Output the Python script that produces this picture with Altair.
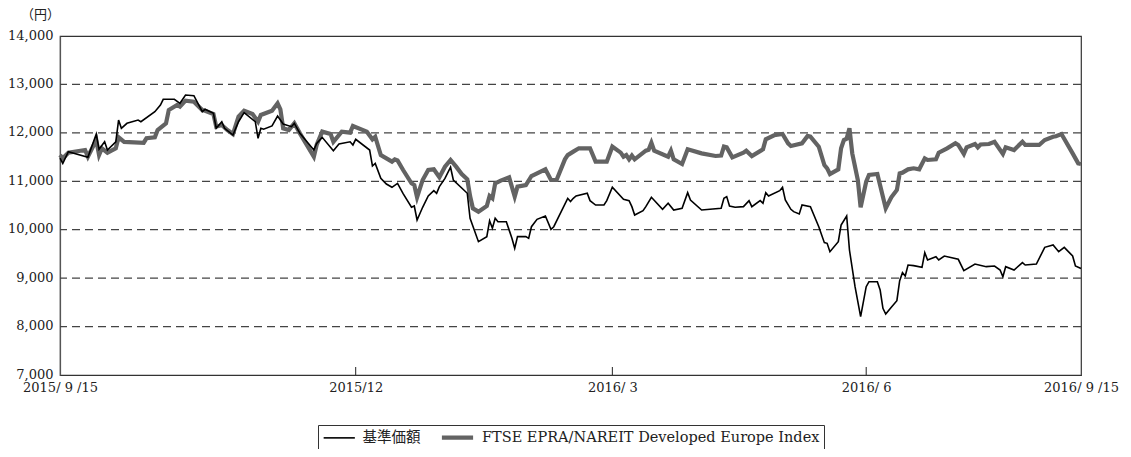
import altair as alt
import pandas as pd

START = "2015-09-15"
END = "2016-09-15"

# 基準価額 (days after 2015-09-15, value in yen)
nav_days = [0, 1, 3, 10, 13, 14, 16, 17, 20, 21, 22, 24, 28, 29, 34, 36, 37, 41, 43, 45, 48, 51, 52, 55, 56, 58, 59, 62, 64, 66, 70, 71, 72, 73, 76, 78, 80, 83, 84, 86, 91, 92, 94, 98, 100, 104, 105, 106, 111, 112, 113, 115, 117, 119, 121, 123, 126, 127, 128, 130, 132, 134, 135, 136, 138, 140, 141, 146, 147, 150, 153, 154, 155, 156, 157, 160, 162, 163, 164, 167, 168, 169, 171, 174, 176, 177, 182, 183, 184, 185, 189, 190, 192, 195, 196, 198, 202, 204, 205, 206, 209, 210, 212, 216, 218, 220, 223, 225, 226, 230, 237, 238, 239, 240, 242, 245, 247, 248, 251, 252, 253, 254, 258, 259, 260, 262, 263, 265, 266, 269, 272, 274, 275, 276, 279, 280, 282, 283, 285, 287, 289, 290, 293, 294, 295, 296, 298, 300, 301, 302, 303, 304, 306, 309, 310, 311, 314, 315, 317, 322, 324, 328, 332, 335, 337, 338, 339, 342, 345, 346, 350, 353, 356, 358, 360, 363, 364, 366]
nav_values = [11480, 11370, 11610, 11495, 11975, 11660, 11815, 11645, 11815, 12265, 12095, 12197, 12265, 12230, 12437, 12575, 12693, 12693, 12610, 12782, 12768, 12437, 12487, 12404, 12095, 12230, 12095, 11955, 12230, 12417, 12230, 11888, 12095, 12075, 12142, 12348, 12183, 12128, 12197, 11990, 11645, 11783, 11907, 11632, 11770, 11815, 11750, 11867, 11645, 11316, 11370, 11060, 10944, 10876, 10958, 10745, 10463, 10490, 10200, 10463, 10696, 10806, 10752, 10890, 11060, 11290, 11027, 10752, 10236, 9753, 9857, 10186, 10030, 10236, 10166, 10166, 9822, 9616, 9857, 9857, 9822, 10062, 10215, 10284, 10007, 10062, 10648, 10580, 10648, 10696, 10752, 10600, 10510, 10510, 10600, 10876, 10628, 10600, 10476, 10304, 10393, 10476, 10669, 10421, 10545, 10407, 10442, 10765, 10614, 10407, 10442, 10648, 10683, 10490, 10463, 10476, 10600, 10476, 10600, 10545, 10765, 10696, 10806, 10876, 10614, 10421, 10373, 10325, 10510, 10476, 10062, 9733, 9719, 9546, 9753, 10097, 10284, 9581, 8823, 8204, 8823, 8927, 8927, 8755, 8377, 8260, 8398, 8535, 8948, 9113, 9044, 9271, 9258, 9223, 9526, 9375, 9443, 9375, 9457, 9389, 9154, 9292, 9237, 9251, 9168, 9030, 9237, 9168, 9320, 9271, 9292, 9636, 9684, 9546, 9636, 9457, 9251, 9200]

# FTSE EPRA/NAREIT Developed Europe Index (rebased)
idx_days = [0, 1, 3, 9, 10, 13, 14, 15, 17, 20, 21, 23, 30, 31, 34, 35, 38, 39, 42, 43, 45, 48, 51, 52, 55, 56, 58, 60, 62, 64, 66, 69, 71, 72, 76, 78, 79, 80, 82, 84, 86, 91, 92, 94, 97, 98, 101, 104, 105, 110, 112, 113, 115, 119, 120, 121, 123, 126, 127, 128, 130, 132, 134, 136, 138, 140, 142, 144, 146, 147, 148, 150, 153, 154, 155, 156, 158, 161, 163, 164, 167, 169, 174, 176, 178, 181, 182, 184, 186, 190, 192, 196, 198, 201, 202, 203, 204, 205, 206, 210, 211, 212, 213, 218, 219, 220, 223, 225, 230, 235, 237, 238, 239, 241, 245, 246, 248, 252, 253, 256, 259, 261, 262, 266, 268, 269, 272, 274, 275, 276, 279, 280, 281, 282, 283, 284, 286, 287, 289, 290, 293, 296, 298, 300, 301, 302, 304, 306, 308, 310, 311, 314, 315, 318, 321, 322, 324, 325, 328, 329, 330, 333, 335, 338, 339, 342, 345, 346, 351, 353, 356, 357, 359, 363, 365, 366]
idx_values = [11543, 11474, 11591, 11646, 11508, 11853, 11543, 11680, 11591, 11680, 11908, 11815, 11796, 11888, 11908, 12059, 12197, 12472, 12575, 12541, 12665, 12644, 12472, 12458, 12390, 12128, 12162, 12059, 11976, 12334, 12458, 12390, 12231, 12369, 12458, 12610, 12486, 12093, 12059, 12197, 11990, 11508, 11750, 12025, 11976, 11815, 12025, 12004, 12142, 12025, 11867, 11920, 11543, 11405, 11453, 11430, 11233, 10958, 10923, 10669, 11027, 11233, 11247, 11082, 11302, 11440, 11302, 11150, 11040, 10696, 10442, 10373, 10490, 10696, 10648, 10958, 11013, 11082, 10683, 10890, 10923, 11109, 11247, 11027, 11027, 11453, 11540, 11612, 11681, 11681, 11405, 11405, 11715, 11591, 11508, 11540, 11453, 11530, 11453, 11632, 11650, 11796, 11632, 11508, 11632, 11453, 11357, 11660, 11577, 11522, 11530, 11715, 11700, 11495, 11591, 11632, 11522, 11660, 11867, 11950, 11976, 11784, 11729, 11784, 11935, 11920, 11715, 11336, 11268, 11150, 11247, 11681, 11853, 11880, 12094, 11577, 11027, 10463, 10992, 11130, 11150, 10442, 10669, 10820, 11164, 11178, 11247, 11268, 11247, 11474, 11440, 11453, 11591, 11680, 11784, 11750, 11564, 11701, 11770, 11701, 11760, 11770, 11817, 11564, 11701, 11646, 11817, 11750, 11750, 11853, 11920, 11930, 11976, 11577, 11370, 11357]

series_names = ["基準価額", "FTSE EPRA/NAREIT Developed Europe Index"]
series_colors = ["#000000", "#636363"]
series_widths = [1.6, 4.2]

y_ticks = [7000, 8000, 9000, 10000, 11000, 12000, 13000, 14000]
grid_values = [8000, 9000, 10000, 11000, 12000, 13000]
x_tick_dates = ["2015-09-15", "2015-12-30", "2016-03-31", "2016-06-30", "2016-09-15"]
x_tick_labels = ["2015/ 9 /15", "2015/12", "2016/ 3", "2016/ 6", "2016/ 9 /15"]
inner_tick_dates = ["2015-12-30", "2016-03-31", "2016-06-30"]

FONT = "DejaVu Serif, Noto Sans CJK JP"

start = pd.Timestamp(START)


def to_dates(days):
    return [(start + pd.Timedelta(days=d)).strftime("%Y-%m-%d") for d in days]


def ms(d):
    return int(pd.Timestamp(d, tz="UTC").timestamp() * 1000)


nav_df = pd.DataFrame({"date": to_dates(nav_days), "value": nav_values, "series": series_names[0]})
idx_df = pd.DataFrame({"date": to_dates(idx_days), "value": idx_values, "series": series_names[1]})
grid_df = pd.DataFrame({"value": grid_values})
tick_df = pd.DataFrame({"date": inner_tick_dates})

label_expr = "''"
for d, l in reversed(list(zip(x_tick_dates, x_tick_labels))):
    label_expr = f"utcFormat(datum.value, '%Y-%m-%d') == '{d}' ? '{l}' : ({label_expr})"

x_scale = alt.Scale(type="utc", domain=[ms(START), ms(END)], nice=False)
y_scale = alt.Scale(domain=[7000, 14000], nice=False, zero=False)

x_axis = alt.Axis(
    values=[ms(d) for d in x_tick_dates],
    labelExpr=label_expr,
    domainColor="#333",
    labelPadding=6,
    labelFlush=False,
    labelOverlap=False,
    title=None,
)
y_axis = alt.Axis(
    values=y_ticks,
    labelExpr="format(datum.value, ',')",
    domainColor="#555",
    labelPadding=7,
    labelOffset=-1,
    title="（円）",
    titleAngle=0,
    titleAlign="center",
    titleBaseline="bottom",
    titleX=-20,
    titleY=-15,
)

legend_def = alt.Legend(
    title=None,
    orient="none",
    legendX=258,
    legendY=389,
    direction="horizontal",
    labelLimit=600,
    symbolType="M-2.6,0H2.6",
    symbolSize=144,
    symbolOffset=10,
    labelOffset=16,
    columnPadding=12,
    padding=4,
    strokeColor="#333",
    fillColor="white",
)

color = alt.Color(
    "series:N",
    scale=alt.Scale(domain=series_names, range=series_colors),
    legend=legend_def,
)
width = alt.StrokeWidth(
    "series:N",
    scale=alt.Scale(domain=series_names, range=series_widths),
    legend=legend_def,
)

x_enc = alt.X("date:T", scale=x_scale, axis=x_axis)
y_enc = alt.Y("value:Q", scale=y_scale, axis=y_axis)

grid = alt.Chart(grid_df).mark_rule(color="#444", strokeWidth=1.2, strokeDash=[8, 5]).encode(
    y=y_enc
)
idx_line = alt.Chart(idx_df).mark_line(strokeJoin="miter").encode(
    x=x_enc, y=y_enc, color=color, strokeWidth=width
)
nav_line = alt.Chart(nav_df).mark_line().encode(
    x=x_enc, y=y_enc, color=color, strokeWidth=width
)
ticks = alt.Chart(tick_df).mark_rule(color="#222", strokeWidth=1).encode(
    x=x_enc,
    y=alt.value(339),
    y2=alt.value(331),
)

chart = (
    alt.layer(grid, idx_line, nav_line, ticks)
    .properties(
        width=1021,
        height=339,
        background="white",
        autosize=alt.AutoSizeParams(type="none"),
        padding={"left": 52, "top": 28, "right": 42, "bottom": 74},
    )
    .configure_view(stroke="#333", strokeWidth=1.2)
    .configure_axis(
        ticks=False,
        grid=False,
        domainWidth=1.2,
        labelFont=FONT,
        labelFontSize=13,
        labelColor="#222",
        titleFont=FONT,
        titleFontSize=13,
        titleFontWeight="normal",
        titleColor="#222",
    )
    .configure_legend(
        labelFont=FONT,
        labelFontSize=14.5,
        labelColor="#222",
    )
)

chart.save("out.html", embed_options={"renderer": "svg", "actions": False})
